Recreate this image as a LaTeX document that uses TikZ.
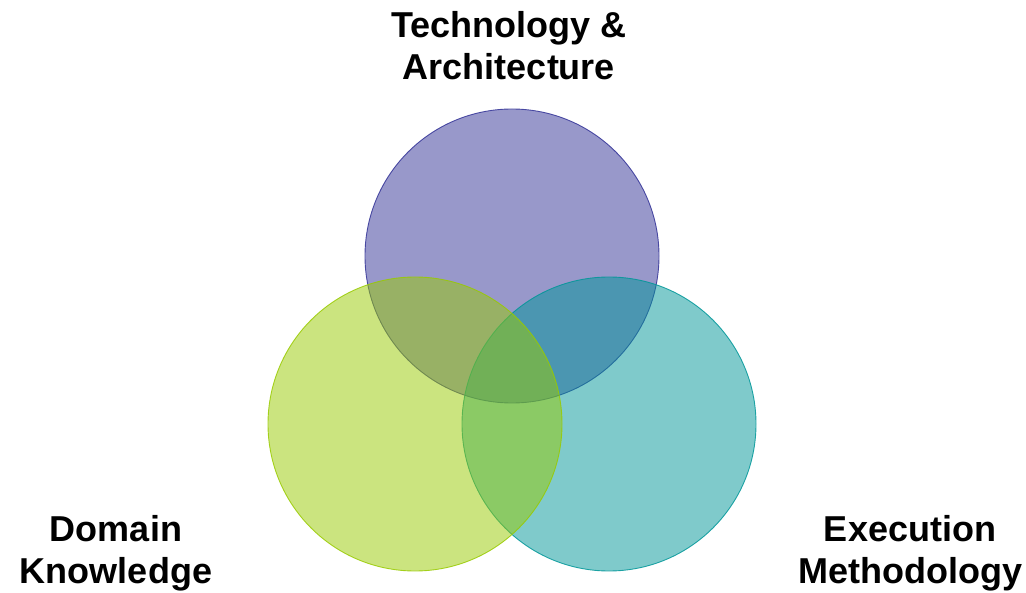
\documentclass[tikz,border=0pt]{standalone}
\usepackage{fontspec}
\setmainfont{Liberation Sans}
\definecolor{techcol}{RGB}{50,50,150}
\definecolor{domcol}{RGB}{152,202,0}
\definecolor{execcol}{RGB}{0,150,152}
\tikzset{
 set/.style={circle,minimum size=294pt,inner sep=0pt,line width=0.9pt,fill opacity=0.5,draw opacity=0.85},
 lab/.style={align=center,font=\fontsize{36}{42}\selectfont\bfseries,anchor=base}
}
\begin{document}
\begin{tikzpicture}[x=1pt,y=-1pt]
 \useasboundingbox (0,0) rectangle (1026,593);
 \node[set,draw=techcol,fill=techcol](tech) at (512,256){};
 \node[set,draw=execcol,fill=execcol](exec) at (609,424){};
 \node[set,draw=domcol,fill=domcol](dom) at (415,424){};
 \node[lab](techlab) at (509,80){Technology \&\\ Architecture};
 \node[lab](domlab) at (116,583){Domain\\Knowledge};
 \node[lab](execlab) at (910,583){Execution\\Methodology};
\end{tikzpicture}
\end{document}
